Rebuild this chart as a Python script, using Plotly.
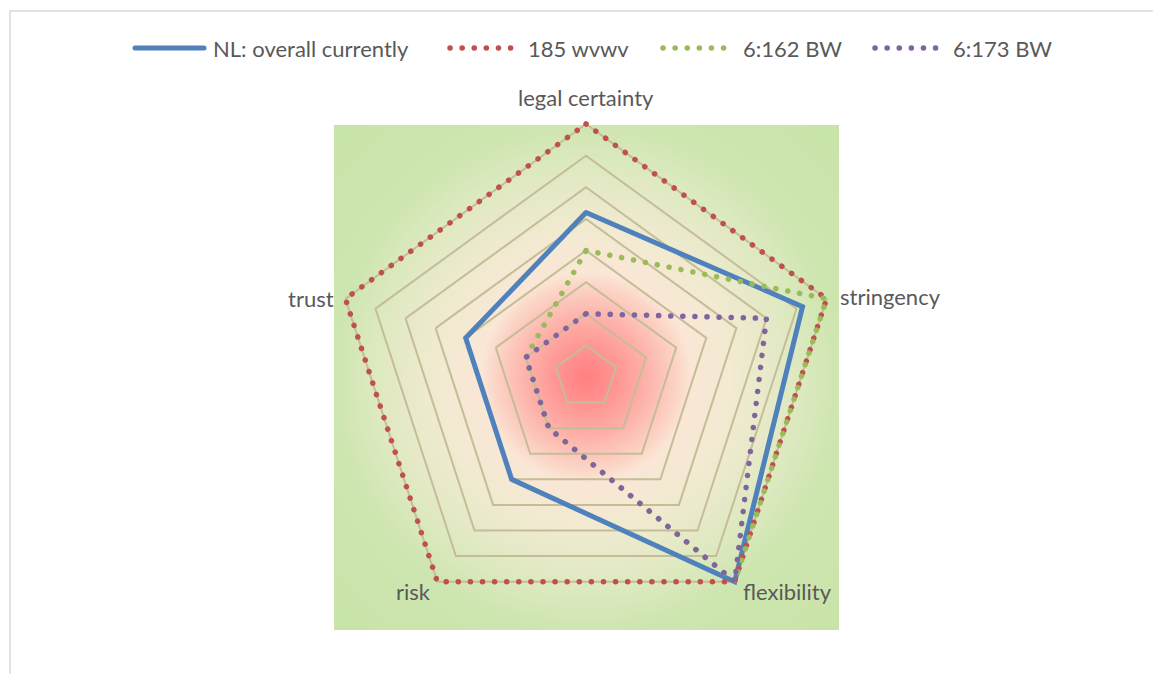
import base64
import struct
import zlib

import numpy as np
import plotly.graph_objects as go

# ---- data -------------------------------------------------------------
categories = ["legal certainty", "stringency", "flexibility", "risk", "trust"]
series_names = ["NL: overall currently", "185 wvwv", "6:162 BW", "6:173 BW"]
nl_overall = [5.2, 7.2, 8, 4, 4]
wvwv_185 = [8, 8, 8, 8, 8]
bw_6_162 = [4, 8, 8, 2, 2]
bw_6_173 = [2, 6, 8, 2, 2]
scale_max = 8          # outermost grid ring
range_pad = 0.35       # headroom so lines on the outer ring are not clipped

# ---- page geometry (pixels) -------------------------------------------
W, H = 1153, 674
CX, CY, R_RING = 586, 377, 253
R = R_RING * (scale_max + range_pad) / scale_max
FONT = "Lato"
FSIZE = 22
TEXT = "#595959"
GRID = "#C4BD97"


def px(x):
    return x / W


def py(y):
    return 1 - y / H


# ---- radial red -> cream -> green background as an inline PNG ----------
def make_png(rgb):
    h, w, _ = rgb.shape
    raw = b"".join(b"\x00" + rgb[i].tobytes() for i in range(h))

    def chunk(tag, data):
        c = struct.pack(">I", len(data)) + tag + data
        return c + struct.pack(">I", zlib.crc32(tag + data) & 0xFFFFFFFF)

    return (b"\x89PNG\r\n\x1a\n"
            + chunk(b"IHDR", struct.pack(">IIBBBBB", w, h, 8, 2, 0, 0, 0))
            + chunk(b"IDAT", zlib.compress(raw, 9))
            + chunk(b"IEND", b""))


N = 253
half = 252.5
g = (np.arange(N) + 0.5) / N * 2 * half - half
xx, yy = np.meshgrid(g, g)
rr = np.sqrt(xx ** 2 + yy ** 2)
stops_r = [0, 30, 60, 90, 105, 140, 180, 220, 255, 370]
stops_c = [(255, 128, 128), (255, 150, 148), (254, 178, 170), (252, 212, 198),
           (251, 231, 214), (244, 234, 211), (233, 234, 202), (219, 233, 190),
           (206, 230, 176), (200, 228, 168)]
img = np.zeros((N, N, 3), dtype=np.uint8)
for k in range(3):
    img[:, :, k] = np.clip(np.interp(rr, stops_r, [c[k] for c in stops_c]), 0, 255).astype(np.uint8)
bg_uri = "data:image/png;base64," + base64.b64encode(make_png(img)).decode()

# ---- figure ------------------------------------------------------------
fig = go.Figure()

styles = [
    dict(color="#4F81BD", width=5, dash="solid"),
    dict(color="#C0504D", width=5.5, dash="0.1px,12px"),
    dict(color="#9BBB59", width=5.5, dash="0.1px,12px"),
    dict(color="#8064A2", width=5.5, dash="0.1px,12px"),
]
for name, vals, st in zip(series_names, [nl_overall, wvwv_185, bw_6_162, bw_6_173], styles):
    fig.add_trace(go.Scatterpolar(
        r=vals + vals[:1], theta=categories + categories[:1], name=name,
        mode="lines", line=st, showlegend=False, cliponaxis=False,
        hoverinfo="name+r+theta",
    ))

fig.update_layout(
    width=W, height=H, autosize=False,
    margin=dict(l=0, r=0, t=0, b=0),
    paper_bgcolor="white",
    font=dict(family=FONT, color=TEXT, size=FSIZE),
    polar=dict(
        domain=dict(x=[px(CX - R), px(CX + R)], y=[py(CY + R), py(CY - R)]),
        bgcolor="rgba(0,0,0,0)",
        gridshape="linear",
        radialaxis=dict(range=[0, scale_max + range_pad], tickvals=list(range(1, scale_max + 1)),
                        showticklabels=False, ticks="",
                        showline=False, gridcolor=GRID, gridwidth=2,
                        layer="below traces"),
        angularaxis=dict(categoryorder="array", categoryarray=categories,
                         rotation=90, direction="clockwise", showticklabels=False,
                         ticks="", showgrid=False, showline=False,
                         layer="below traces"),
    ),
    images=[dict(source=bg_uri, xref="paper", yref="paper",
                 x=px(334), y=py(125), sizex=px(505), sizey=505 / H,
                 xanchor="left", yanchor="top", sizing="stretch", layer="below")],
)

# chart frame
fig.add_shape(type="rect", xref="paper", yref="paper",
              x0=px(10), y0=py(700), x1=px(1175), y1=py(11),
              line=dict(color="#D9D9D9", width=1.5), fillcolor="rgba(0,0,0,0)", layer="below")

# axis category labels
label_pos = {
    "legal certainty": (586, 97, "center"),
    "stringency": (838, 296, "left"),
    "flexibility": (741, 591, "left"),
    "risk": (433, 591, "right"),
    "trust": (336, 298, "right"),
}
for cat in categories:
    x, y, anc = label_pos[cat]
    fig.add_annotation(x=px(x), y=py(y), xref="paper", yref="paper", text=cat,
                       showarrow=False, xanchor=anc, yanchor="middle",
                       font=dict(family=FONT, size=FSIZE, color=TEXT))

# legend row: (sample start, sample end, text start)
legend_items = [(135, 204, 211), (450, 514, 526), (663, 728, 741), (875, 938, 951)]
for name, st, (l0, l1, tx) in zip(series_names, styles, legend_items):
    fig.add_shape(type="line", xref="paper", yref="paper",
                  x0=px(l0), x1=px(l1), y0=py(48), y1=py(48),
                  line=dict(color=st["color"], width=st["width"], dash=st["dash"]))
    fig.add_annotation(x=px(tx), y=py(48), xref="paper", yref="paper", text=name,
                       showarrow=False, xanchor="left", yanchor="middle",
                       font=dict(family=FONT, size=FSIZE, color=TEXT))

round_caps = """
var s = document.createElement('style');
s.textContent = '.js-line, .shapelayer path { stroke-linecap: round; }';
document.head.appendChild(s);
"""
fig.write_html("out.html", post_script=round_caps)
